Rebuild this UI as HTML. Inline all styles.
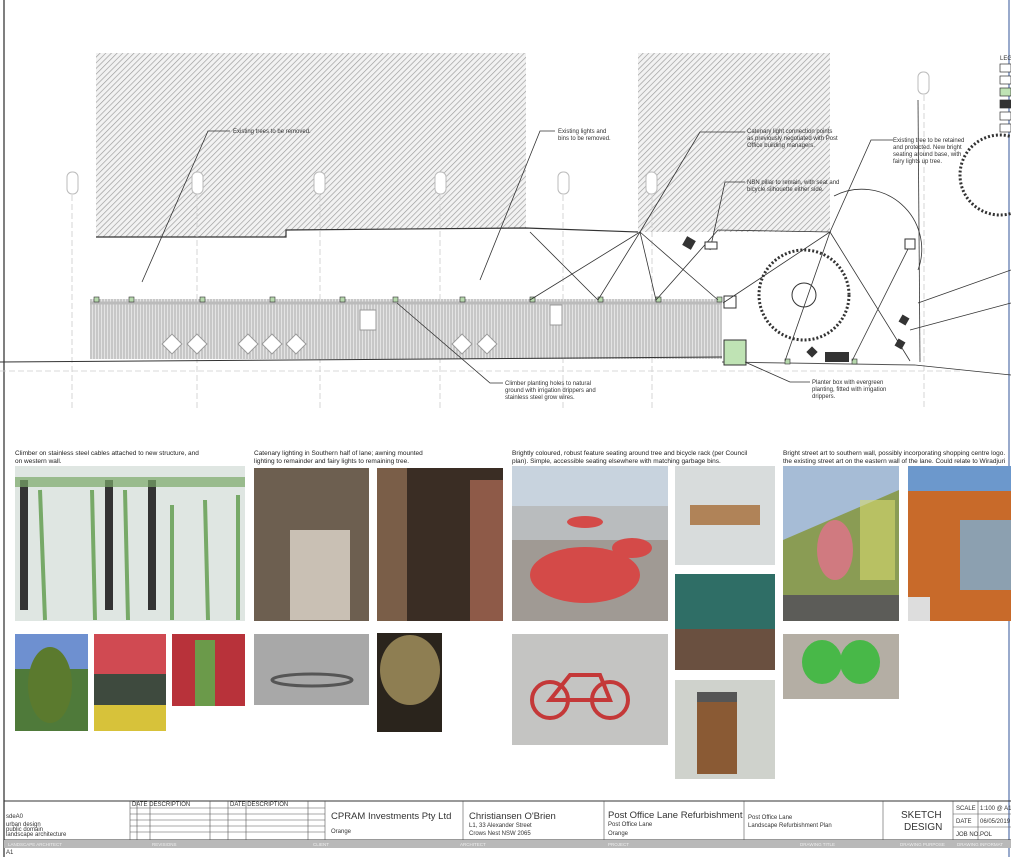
<!DOCTYPE html>
<html><head><meta charset="utf-8"><style>
body{margin:0;background:#fff;width:1011px;height:857px;overflow:hidden;font-family:"Liberation Sans",sans-serif}
svg{display:block}
.t{font-family:"Liberation Sans",sans-serif;font-size:6px;fill:#333}
.c{font-family:"Liberation Sans",sans-serif;font-size:6.5px;fill:#222}
</style></head><body>
<svg width="1011" height="857" viewBox="0 0 1011 857" xmlns="http://www.w3.org/2000/svg">
<defs>
<pattern id="h" width="4" height="4" patternUnits="userSpaceOnUse" patternTransform="rotate(45)"><rect width="4" height="4" fill="#f2f2f2"/><line x1="0" y1="0" x2="0" y2="4" stroke="#9a9a9a" stroke-width="1.3"/></pattern>
<pattern id="v" width="3" height="6" patternUnits="userSpaceOnUse"><rect width="3" height="6" fill="#e4e4e4"/><line x1="1" y1="0" x2="1" y2="6" stroke="#aaa" stroke-width="1"/></pattern>
</defs>
<rect x="0" y="0" width="1011" height="857" fill="#fff"/>
<line x1="4" y1="0" x2="4" y2="857" stroke="#555" stroke-width="1.5"/>
<line x1="1009" y1="0" x2="1009" y2="857" stroke="#99aacc" stroke-width="2"/>
<!-- buildings -->
<path d="M96 53 H526 V228 L286 230 V237 H96 Z" fill="url(#h)"/>
<path d="M96 237 H286 V230 L526 228 L638 232" fill="none" stroke="#333" stroke-width="1.2"/>
<rect x="638" y="53" width="192" height="179" fill="url(#h)"/>
<!-- grid circles -->
<g fill="#fff" stroke="#bbb" stroke-width="1">
<rect x="67" y="172" width="11" height="22" rx="5"/><rect x="192" y="172" width="11" height="22" rx="5"/><rect x="314" y="172" width="11" height="22" rx="5"/><rect x="435" y="172" width="11" height="22" rx="5"/><rect x="558" y="172" width="11" height="22" rx="5"/><rect x="646" y="172" width="11" height="22" rx="5"/><rect x="918" y="72" width="11" height="22" rx="5"/>
</g>
<g stroke="#ccc" stroke-dasharray="6,3" stroke-width="0.8">
<line x1="72" y1="195" x2="72" y2="410"/><line x1="197" y1="195" x2="197" y2="410"/><line x1="320" y1="195" x2="320" y2="410"/><line x1="440" y1="195" x2="440" y2="410"/><line x1="563" y1="195" x2="563" y2="410"/><line x1="652" y1="195" x2="652" y2="410"/><line x1="924" y1="95" x2="924" y2="410"/>
<line x1="0" y1="371" x2="960" y2="371"/>
</g>
<!-- lane strip -->
<rect x="90" y="299" width="632" height="60" fill="url(#v)"/>
<line x1="90" y1="303" x2="722" y2="303" stroke="#bbb" stroke-width="3"/>
<g fill="#fff" stroke="#999">
<rect x="165" y="337" width="14" height="14" transform="rotate(45 172 344)"/><rect x="190" y="337" width="14" height="14" transform="rotate(45 197 344)"/><rect x="241" y="337" width="14" height="14" transform="rotate(45 248 344)"/><rect x="265" y="337" width="14" height="14" transform="rotate(45 272 344)"/><rect x="289" y="337" width="14" height="14" transform="rotate(45 296 344)"/><rect x="455" y="337" width="14" height="14" transform="rotate(45 462 344)"/><rect x="480" y="337" width="14" height="14" transform="rotate(45 487 344)"/>
<rect x="360" y="310" width="16" height="20"/><rect x="550" y="305" width="12" height="20"/>
</g>
<line x1="0" y1="362" x2="722" y2="357" stroke="#333" stroke-width="1"/>
<line x1="722" y1="362" x2="915" y2="365" stroke="#555" stroke-width="1"/>
<rect x="724" y="340" width="22" height="25" fill="#bfe3b4" stroke="#333"/>
<rect x="724" y="296" width="12" height="12" fill="#fff" stroke="#333"/>
<g fill="#b6d8ac" stroke="#333" stroke-width="0.6">
<rect x="94" y="297" width="5" height="5"/><rect x="129" y="297" width="5" height="5"/><rect x="200" y="297" width="5" height="5"/><rect x="270" y="297" width="5" height="5"/><rect x="340" y="297" width="5" height="5"/><rect x="393" y="297" width="5" height="5"/><rect x="460" y="297" width="5" height="5"/><rect x="530" y="297" width="5" height="5"/><rect x="598" y="297" width="5" height="5"/><rect x="656" y="297" width="5" height="5"/><rect x="717" y="297" width="5" height="5"/><rect x="785" y="359" width="5" height="5"/><rect x="852" y="359" width="5" height="5"/>
</g>
<!-- leader lines -->
<g stroke="#333" stroke-width="0.8" fill="none">
<path d="M142 282 L208 131 H230"/><path d="M480 280 L540 131 H555"/>
<path d="M397 303 L490 383 H503"/><path d="M530 232 L598 300 L640 232 L656 300 L718 230 L830 232 L723 303"/>
<path d="M640 232 L718 300 M640 232 L530 300 M830 232 L785 361 M830 232 L910 361 M910 245 L852 361 M640 232 L700 132 H745"/>
<path d="M710 250 L725 182 H745"/><path d="M830 232 L871 140 H893"/><path d="M745 362 L790 382 H810"/>
<path d="M918 303 L1011 270 M910 330 L1011 303 M915 365 L1011 375"/>
<path d="M834 196 A60 60 0 0 1 918 270"/><line x1="918" y1="100" x2="920" y2="362"/>
</g>
<circle cx="804" cy="295" r="45" fill="none" stroke="#333" stroke-width="3" stroke-dasharray="2,2"/>
<circle cx="804" cy="295" r="12" fill="none" stroke="#333"/>
<circle cx="1000" cy="175" r="40" fill="none" stroke="#333" stroke-width="3" stroke-dasharray="2,2"/>
<g fill="#333"><rect x="825" y="352" width="24" height="10"/><rect x="684" y="238" width="10" height="10" transform="rotate(30 689 243)"/><rect x="808" y="348" width="8" height="8" transform="rotate(45 812 352)"/><rect x="900" y="316" width="8" height="8" transform="rotate(30 904 320)"/><rect x="896" y="340" width="8" height="8" transform="rotate(30 900 344)"/></g>
<rect x="705" y="242" width="12" height="7" fill="#fff" stroke="#333"/>
<rect x="905" y="239" width="10" height="10" fill="#fff" stroke="#333"/>
<!-- legend -->
<g fill="#fff" stroke="#333" stroke-width="0.7"><rect x="1000" y="64" width="11" height="8"/><rect x="1000" y="76" width="11" height="8"/><rect x="1000" y="88" width="11" height="8" fill="#bfe3b4"/><rect x="1000" y="100" width="11" height="8" fill="#333"/><rect x="1000" y="112" width="11" height="8"/><rect x="1000" y="124" width="11" height="8"/></g>
<text x="1000" y="60" class="t">LEG</text>
<!-- drawing notes -->
<text x="233" y="133" class="t">Existing trees to be removed.</text>
<text x="558" y="133" class="t">Existing lights and</text><text x="558" y="140" class="t">bins to be removed.</text>
<text x="747" y="133" class="t">Catenary light connection points</text><text x="747" y="140" class="t">as previously negotiated with Post</text><text x="747" y="147" class="t">Office building managers.</text>
<text x="747" y="184" class="t">NBN pillar to remain, with seat and</text><text x="747" y="191" class="t">bicycle silhouette either side.</text>
<text x="893" y="142" class="t">Existing tree to be retained</text><text x="893" y="149" class="t">and protected. New bright</text><text x="893" y="156" class="t">seating around base, with</text><text x="893" y="163" class="t">fairy lights up tree.</text>
<text x="505" y="385" class="t">Climber planting holes to natural</text><text x="505" y="392" class="t">ground with irrigation drippers and</text><text x="505" y="399" class="t">stainless steel grow wires.</text>
<text x="812" y="384" class="t">Planter box with evergreen</text><text x="812" y="391" class="t">planting, fitted with irrigation</text><text x="812" y="398" class="t">drippers.</text>
<!-- captions -->
<text x="15" y="455" class="c">Climber on stainless steel cables attached to new structure, and</text><text x="15" y="463" class="c">on western wall.</text>
<text x="254" y="455" class="c">Catenary lighting in Southern half of lane; awning mounted</text><text x="254" y="463" class="c">lighting to remainder and fairy lights to remaining tree.</text>
<text x="512" y="455" class="c">Brightly coloured, robust feature seating around tree and bicycle rack (per Council</text><text x="512" y="463" class="c">plan). Simple, accessible seating elsewhere with matching garbage bins.</text>
<text x="783" y="455" class="c">Bright street art to southern wall, possibly incorporating shopping centre logo.</text><text x="783" y="463" class="c">the existing street art on the eastern wall of the lane. Could relate to Wiradjuri</text>
<!-- photos -->
<rect x="15" y="466" width="230" height="155" fill="#dfe6e2"/>
<rect x="20" y="480" width="8" height="130" fill="#333"/><rect x="105" y="480" width="8" height="130" fill="#333"/><rect x="148" y="480" width="8" height="130" fill="#333"/>
<g stroke="#5e9a4a" stroke-width="4" opacity="0.8"><line x1="40" y1="490" x2="45" y2="620"/><line x1="92" y1="490" x2="95" y2="620"/><line x1="125" y1="490" x2="128" y2="620"/><line x1="172" y1="505" x2="172" y2="620"/><line x1="205" y1="500" x2="208" y2="620"/><line x1="238" y1="495" x2="238" y2="620"/></g>
<rect x="15" y="477" width="230" height="10" fill="#7aa86a" opacity="0.7"/>
<rect x="15" y="634" width="73" height="97" fill="#4f7a3a"/><rect x="15" y="634" width="73" height="35" fill="#6e90d0"/><ellipse cx="50" cy="685" rx="22" ry="38" fill="#5b7a2e"/>
<rect x="94" y="634" width="72" height="97" fill="#3e4a3e"/><rect x="94" y="634" width="72" height="40" fill="#d04a52"/><rect x="94" y="705" width="72" height="26" fill="#d7c23a"/>
<rect x="172" y="634" width="73" height="72" fill="#b8323a"/><rect x="195" y="640" width="20" height="66" fill="#6b9a4a"/>
<rect x="254" y="468" width="115" height="153" fill="#6d5f50"/><rect x="290" y="530" width="60" height="90" fill="#c9c0b4"/>
<rect x="377" y="468" width="126" height="153" fill="#3a2d24"/><rect x="377" y="468" width="30" height="153" fill="#7a5e48"/><rect x="470" y="480" width="33" height="141" fill="#8e5a48"/>
<rect x="254" y="634" width="115" height="71" fill="#a8a8a8"/><ellipse cx="312" cy="680" rx="40" ry="6" fill="none" stroke="#555" stroke-width="3"/>
<rect x="377" y="633" width="65" height="99" fill="#2a241c"/><ellipse cx="410" cy="670" rx="30" ry="35" fill="#a89560" opacity="0.8"/>
<rect x="512" y="466" width="156" height="155" fill="#b9bcbe"/><rect x="512" y="466" width="156" height="40" fill="#c8d3de"/><rect x="512" y="540" width="156" height="81" fill="#a09a94"/>
<ellipse cx="585" cy="575" rx="55" ry="28" fill="#d44a48"/><ellipse cx="585" cy="522" rx="18" ry="6" fill="#d44a48"/><ellipse cx="632" cy="548" rx="20" ry="10" fill="#d44a48"/>
<rect x="675" y="466" width="100" height="99" fill="#d8dcdc"/><rect x="690" y="505" width="70" height="20" fill="#b08358"/>
<rect x="675" y="574" width="100" height="96" fill="#6a5040"/><rect x="675" y="574" width="100" height="55" fill="#2f6e66"/>
<rect x="675" y="680" width="100" height="99" fill="#cfd2cc"/><rect x="697" y="692" width="40" height="82" fill="#8a5a34"/><rect x="697" y="692" width="40" height="10" fill="#555"/>
<rect x="512" y="634" width="156" height="111" fill="#c4c4c2"/><circle cx="550" cy="700" r="18" fill="none" stroke="#c43838" stroke-width="4"/><circle cx="610" cy="700" r="18" fill="none" stroke="#c43838" stroke-width="4"/><path d="M550 700 L570 675 L600 675 L610 700 L580 700 Z" fill="none" stroke="#c43838" stroke-width="4"/>
<rect x="783" y="466" width="116" height="155" fill="#8a9c54"/><path d="M783 466 H899 V490 L783 540 Z" fill="#a6bcd6"/><rect x="783" y="595" width="116" height="26" fill="#5c5c58"/><ellipse cx="835" cy="550" rx="18" ry="30" fill="#d07a80"/><rect x="860" y="500" width="35" height="80" fill="#d7da6e" opacity="0.6"/>
<rect x="908" y="466" width="103" height="155" fill="#c86a2a"/><rect x="908" y="466" width="103" height="25" fill="#6c98cc"/><rect x="960" y="520" width="51" height="70" fill="#8ca0b0"/><rect x="908" y="597" width="22" height="24" fill="#ddd"/>
<rect x="783" y="634" width="116" height="65" fill="#b4aea4"/><ellipse cx="822" cy="662" rx="20" ry="22" fill="#48b848"/><ellipse cx="860" cy="662" rx="20" ry="22" fill="#48b848"/>
<!-- title block -->
<line x1="4" y1="801" x2="1011" y2="801" stroke="#333"/>
<line x1="4" y1="840" x2="1011" y2="840" stroke="#333"/>
<rect x="4" y="840" width="1007" height="8" fill="#b9b9b9"/>
<g stroke="#555" stroke-width="0.6">
<line x1="130" y1="801" x2="130" y2="840"/><line x1="228" y1="801" x2="228" y2="840"/><line x1="325" y1="801" x2="325" y2="840"/><line x1="463" y1="801" x2="463" y2="840"/><line x1="604" y1="801" x2="604" y2="840"/><line x1="744" y1="801" x2="744" y2="840"/><line x1="883" y1="801" x2="883" y2="840"/><line x1="953" y1="801" x2="953" y2="840"/><line x1="978" y1="801" x2="978" y2="840"/>
<line x1="953" y1="814" x2="1011" y2="814"/><line x1="953" y1="827" x2="1011" y2="827"/>
<line x1="130" y1="808" x2="325" y2="808"/><line x1="130" y1="814" x2="325" y2="814"/><line x1="130" y1="820" x2="325" y2="820"/><line x1="130" y1="826" x2="325" y2="826"/><line x1="130" y1="832" x2="325" y2="832"/>
<line x1="137" y1="801" x2="137" y2="840"/><line x1="150" y1="801" x2="150" y2="840"/><line x1="210" y1="801" x2="210" y2="840"/><line x1="246" y1="801" x2="246" y2="840"/><line x1="308" y1="801" x2="308" y2="840"/>
</g>
<text x="6" y="818" class="t">sdeA0</text><text x="6" y="826" font-size="5" class="t">urban design</text><text x="6" y="831" font-size="5" class="t">public domain</text><text x="6" y="836" font-size="5" class="t">landscape architecture</text>
<text x="132" y="806" font-size="4.5" class="t">DATE  DESCRIPTION</text><text x="230" y="806" font-size="4.5" class="t">DATE  DESCRIPTION</text>
<text x="331" y="819" font-size="9.5" fill="#333" font-family="Liberation Sans">CPRAM Investments Pty Ltd</text><text x="331" y="833" class="t">Orange</text>
<text x="469" y="819" font-size="9.5" fill="#333" font-family="Liberation Sans">Christiansen O'Brien</text><text x="469" y="827" class="t">L1, 33 Alexander Street</text><text x="469" y="835" class="t">Crows Nest NSW 2065</text>
<text x="608" y="818" font-size="9.5" fill="#333" font-family="Liberation Sans">Post Office Lane Refurbishment</text><text x="608" y="826" class="t">Post Office Lane</text><text x="608" y="835" class="t">Orange</text>
<text x="748" y="819" class="t">Post Office Lane</text><text x="748" y="827" class="t">Landscape Refurbishment Plan</text>
<text x="901" y="818" font-size="10" fill="#333" font-family="Liberation Sans">SKETCH</text><text x="904" y="830" font-size="10" fill="#333" font-family="Liberation Sans">DESIGN</text>
<text x="956" y="810" font-size="5" class="t">SCALE</text><text x="980" y="810" font-size="5" class="t">1:100 @ A1</text>
<text x="956" y="823" font-size="5" class="t">DATE</text><text x="980" y="823" font-size="5" class="t">06/05/2019</text>
<text x="956" y="836" font-size="5" class="t">JOB NO.</text><text x="980" y="836" font-size="5" class="t">POL</text>
<g font-size="4.5" fill="#eee" font-family="Liberation Sans"><text x="8" y="846">LANDSCAPE ARCHITECT</text><text x="152" y="846">REVISIONS</text><text x="313" y="846">CLIENT</text><text x="460" y="846">ARCHITECT</text><text x="608" y="846">PROJECT</text><text x="800" y="846">DRAWING TITLE</text><text x="900" y="846">DRAWING PURPOSE</text><text x="957" y="846">DRAWING INFORMAT</text></g>
<text x="6" y="854" font-size="4.5" class="t">A1</text>
</svg>
</body></html>
